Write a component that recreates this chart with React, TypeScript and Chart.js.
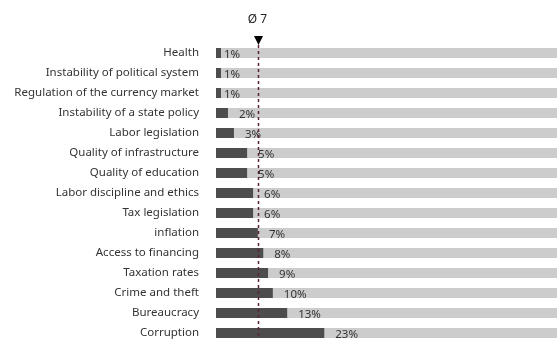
import React, { useEffect, useRef } from "react";
import { Chart, registerables } from "chart.js";

Chart.register(...registerables);

const categories = [
  "Health",
  "Instability of political system",
  "Regulation of the currency market",
  "Instability of a state policy",
  "Labor legislation",
  "Quality of infrastructure",
  "Quality of education",
  "Labor discipline and ethics",
  "Tax legislation",
  "inflation",
  "Access to financing",
  "Taxation rates",
  "Crime and theft",
  "Bureaucracy",
  "Corruption",
];
const values = [0.84, 0.84, 0.84, 2.0, 3.0, 5.2, 5.2, 6.2, 6.2, 7.0, 7.9, 8.7, 9.5, 11.9, 18.1];
const valueLabels = ["1%", "1%", "1%", "2%", "3%", "5%", "5%", "6%", "6%", "7%", "8%", "9%", "10%", "13%", "23%"];
const backgroundValues = categories.map(() => 57);
const averageValue = 7;
const averageLabel = "Ø 7";
const axisMax = 57;

const overlayPlugin = {
  id: "overlay",
  afterDatasetsDraw(chart: any) {
    const { ctx, scales, chartArea } = chart;
    const meta = chart.getDatasetMeta(0);
    ctx.save();
    ctx.font = "11.5px 'Noto Sans'";
    ctx.fillStyle = "#333333";
    ctx.textBaseline = "middle";
    ctx.textAlign = "left";
    meta.data.forEach((bar: any, i: number) => {
      const off = values[i] < 1.5 ? 3 : 11;
      ctx.fillText(valueLabels[i], bar.x + off, bar.y + 1.5);
    });
    const x = Math.round(scales.x.getPixelForValue(averageValue)) + 0.5;
    ctx.strokeStyle = "#5c2233";
    ctx.lineWidth = 1.5;
    ctx.setLineDash([3, 3]);
    ctx.beginPath();
    ctx.moveTo(x, 45);
    ctx.lineTo(x, chartArea.bottom + 10);
    ctx.stroke();
    ctx.setLineDash([]);
    ctx.fillStyle = "#000000";
    ctx.beginPath();
    ctx.moveTo(x - 4.5, 36);
    ctx.lineTo(x + 4.5, 36);
    ctx.lineTo(x, 45);
    ctx.closePath();
    ctx.fill();
    ctx.font = "12px 'Noto Sans'";
    ctx.fillStyle = "#222222";
    ctx.textAlign = "center";
    ctx.fillText(averageLabel, x - 1, 20);
    ctx.restore();
  },
};

export default function App() {
  const ref = useRef<HTMLCanvasElement>(null);
  useEffect(() => {
    document.body.style.margin = "0";
    document.body.style.overflow = "hidden";
    const chart = new Chart(ref.current!, {
      type: "bar",
      data: {
        labels: categories,
        datasets: [
          {
            data: values,
            backgroundColor: "#4d4d4d",
            barPercentage: 0.5,
            categoryPercentage: 1,
            grouped: false,
          } as any,
          {
            data: backgroundValues,
            backgroundColor: "#cccccc",
            barPercentage: 0.5,
            categoryPercentage: 1,
            grouped: false,
          } as any,
        ],
      },
      options: {
        indexAxis: "y",
        animation: false,
        responsive: true,
        maintainAspectRatio: false,
        layout: { padding: { top: 43, right: 1, bottom: 0, left: 0 } },
        plugins: { legend: { display: false }, tooltip: { enabled: false } },
        scales: {
          x: { display: false, min: 0, max: axisMax },
          y: {
            grid: { display: false, drawTicks: false },
            border: { display: false },
            ticks: {
              padding: 17,
              color: "#333333",
              font: { family: "'Noto Sans'", size: 11.5 },
              autoSkip: false,
            },
            afterFit(scale: any) {
              scale.width = 216;
              scale.paddingTop = 0;
              scale.paddingBottom = 0;
            },
          },
        },
      },
      plugins: [overlayPlugin],
    });
    return () => chart.destroy();
  }, []);
  return (
    <div style={{ position: "fixed", left: 0, top: 0, width: 558, height: 339, overflow: "hidden" }}>
      <div style={{ position: "relative", width: 558, height: 343 }}>
        <canvas ref={ref} />
      </div>
    </div>
  );
}
